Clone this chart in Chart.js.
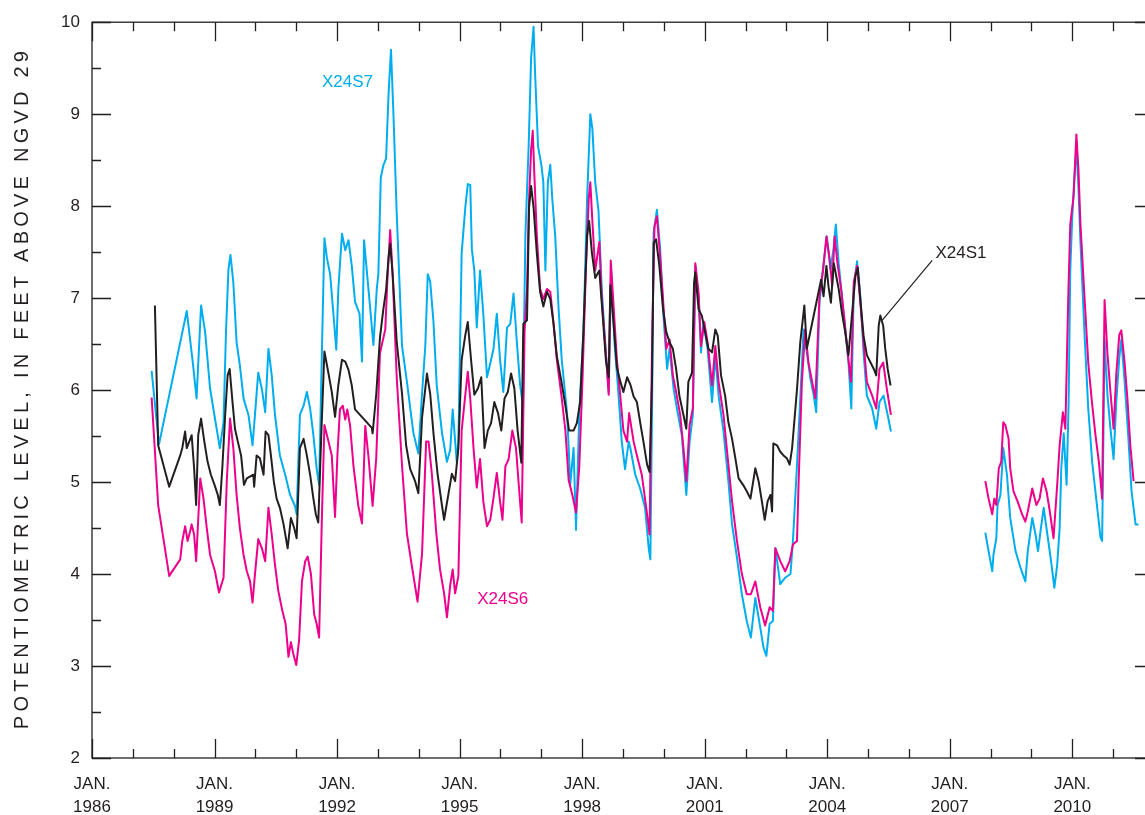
<!DOCTYPE html>
<html>
<head>
<meta charset="utf-8">
<script src="https://cdn.jsdelivr.net/npm/chart.js@4.4.1/dist/chart.umd.min.js"></script>
<style>
  html, body { margin: 0; padding: 0; background: #fff; overflow: hidden; }
  canvas { display: block; }
</style>
</head>
<body>
<canvas id="chart" width="1170" height="815"></canvas>
<script>
const s7Year = [1987.46, 1987.64, 1988.32, 1988.47, 1988.56, 1988.67, 1988.77, 1988.89, 1988.97, 1989.13, 1989.22, 1989.28, 1989.34, 1989.39, 1989.46, 1989.54, 1989.62, 1989.71, 1989.83, 1989.93, 1989.99, 1990.07, 1990.16, 1990.24, 1990.32, 1990.40, 1990.48, 1990.60, 1990.73, 1990.85, 1990.97, 1991.01, 1991.09, 1991.18, 1991.26, 1991.34, 1991.42, 1991.50, 1991.56, 1991.63, 1991.69, 1991.75, 1991.83, 1991.91, 1991.98, 1992.03, 1992.12, 1992.20, 1992.28, 1992.36, 1992.44, 1992.55, 1992.61, 1992.66, 1992.77, 1992.89, 1992.97, 1993.01, 1993.07, 1993.13, 1993.20, 1993.26, 1993.32, 1993.38, 1993.46, 1993.59, 1993.71, 1993.87, 1993.99, 1994.08, 1994.16, 1994.22, 1994.28, 1994.36, 1994.44, 1994.57, 1994.69, 1994.77, 1994.83, 1994.93, 1994.97, 1995.05, 1995.14, 1995.20, 1995.26, 1995.30, 1995.36, 1995.42, 1995.50, 1995.58, 1995.67, 1995.75, 1995.83, 1995.91, 1995.99, 1996.07, 1996.16, 1996.24, 1996.32, 1996.40, 1996.48, 1996.55, 1996.61, 1996.69, 1996.75, 1996.81, 1996.85, 1996.92, 1997.00, 1997.05, 1997.10, 1997.16, 1997.22, 1997.27, 1997.34, 1997.42, 1997.50, 1997.63, 1997.71, 1997.79, 1997.85, 1997.93, 1998.03, 1998.12, 1998.20, 1998.25, 1998.32, 1998.40, 1998.48, 1998.56, 1998.65, 1998.71, 1998.79, 1998.89, 1998.97, 1999.05, 1999.14, 1999.18, 1999.30, 1999.42, 1999.54, 1999.63, 1999.67, 1999.71, 1999.75, 1999.83, 1999.91, 1999.99, 2000.08, 2000.14, 2000.24, 2000.32, 2000.44, 2000.55, 2000.63, 2000.71, 2000.77, 2000.85, 2000.91, 2000.97, 2001.07, 2001.18, 2001.26, 2001.34, 2001.46, 2001.58, 2001.67, 2001.79, 2001.91, 2002.03, 2002.13, 2002.24, 2002.36, 2002.44, 2002.51, 2002.59, 2002.67, 2002.73, 2002.85, 2002.97, 2003.10, 2003.16, 2003.26, 2003.38, 2003.42, 2003.50, 2003.59, 2003.67, 2003.73, 2003.81, 2003.91, 2003.99, 2004.08, 2004.16, 2004.21, 2004.28, 2004.36, 2004.44, 2004.52, 2004.59, 2004.65, 2004.73, 2004.81, 2004.89, 2004.97, 2005.10, 2005.20, 2005.28, 2005.38, 2005.48, 2005.56,
  2006.70,
  2007.87, 2007.95, 2008.04, 2008.07, 2008.14, 2008.17, 2008.24, 2008.31, 2008.40, 2008.48, 2008.61, 2008.73, 2008.85, 2008.91, 2009.02, 2009.10, 2009.16, 2009.22, 2009.30, 2009.38, 2009.48, 2009.56, 2009.63, 2009.69, 2009.73, 2009.79, 2009.86, 2009.91, 2009.95, 2010.00, 2010.05, 2010.10, 2010.15, 2010.20, 2010.30, 2010.39, 2010.49, 2010.59, 2010.69, 2010.73, 2010.79, 2010.86, 2010.93, 2011.01, 2011.08, 2011.15, 2011.20, 2011.28, 2011.37, 2011.45, 2011.55, 2011.62];
const s7Level = [6.21, 5.41, 6.86, 6.29, 5.91, 6.92, 6.63, 6.02, 5.80, 5.37, 5.65, 6.63, 7.31, 7.47, 7.17, 6.52, 6.27, 5.91, 5.73, 5.40, 5.73, 6.19, 6.01, 5.76, 6.45, 6.16, 5.73, 5.29, 5.08, 4.86, 4.74, 4.65, 5.73, 5.83, 5.98, 5.80, 5.51, 5.15, 4.97, 6.45, 7.65, 7.44, 7.26, 6.83, 6.44, 7.09, 7.70, 7.52, 7.63, 7.35, 6.96, 6.83, 6.31, 7.63, 7.09, 6.49, 7.09, 7.26, 8.31, 8.44, 8.52, 9.22, 9.70, 9.00, 7.92, 6.48, 6.09, 5.53, 5.31, 5.96, 6.48, 7.26, 7.18, 6.74, 6.05, 5.53, 5.22, 5.35, 5.79, 5.22, 5.44, 7.49, 7.99, 8.24, 8.23, 7.53, 7.30, 6.68, 7.30, 6.83, 6.14, 6.29, 6.45, 6.83, 6.33, 5.98, 6.68, 6.72, 7.05, 6.53, 6.06, 5.83, 7.68, 8.65, 9.61, 9.95, 9.42, 8.65, 8.45, 8.26, 7.30, 8.26, 8.45, 8.07, 7.68, 6.91, 6.33, 5.75, 4.98, 5.37, 4.48, 5.75, 6.60, 8.07, 9.00, 8.84, 8.26, 7.95, 7.10, 6.53, 5.98, 7.30, 6.53, 5.95, 5.44, 5.14, 5.44, 5.37, 5.08, 4.93, 4.72, 4.28, 4.16, 5.73, 7.71, 7.96, 7.53, 6.81, 6.23, 6.45, 6.01, 5.80, 5.51, 4.86, 5.44, 5.73, 7.35, 6.99, 6.41, 6.74, 6.45, 5.87, 6.38, 5.94, 5.55, 5.01, 4.54, 4.18, 3.78, 3.49, 3.31, 3.74, 3.42, 3.20, 3.11, 3.46, 3.49, 4.28, 3.89, 3.96, 4.00, 4.36, 5.19, 6.27, 6.66, 6.41, 6.12, 5.94, 5.76, 6.95, 7.38, 7.67, 7.31, 7.56, 7.80, 7.38, 7.02, 6.66, 6.30, 5.80, 7.13, 7.40, 7.02, 6.41, 5.94, 5.80, 5.58, 5.87, 5.94, 5.73, 5.55,
  null,
  4.45, 4.25, 4.03, 4.21, 4.39, 4.75, 4.86, 5.37, 5.08, 4.61, 4.25, 4.07, 3.92, 4.25, 4.61, 4.43, 4.25, 4.46, 4.72, 4.46, 4.14, 3.85, 4.10, 4.50, 5.15, 5.53, 4.97, 5.87, 7.30, 7.90, 8.30, 8.65, 8.20, 7.60, 6.60, 5.80, 5.20, 4.80, 4.40, 4.36, 6.55, 5.95, 5.60, 5.25, 5.90, 6.35, 6.55, 6.10, 5.50, 4.90, 4.54, 4.54];

const s6Year = [1987.46, 1987.62, 1987.89, 1988.16, 1988.21, 1988.28, 1988.34, 1988.40, 1988.44, 1988.50, 1988.55, 1988.65, 1988.73, 1988.81, 1988.89, 1989.01, 1989.11, 1989.22, 1989.30, 1989.38, 1989.46, 1989.54, 1989.62, 1989.71, 1989.79, 1989.87, 1989.93, 1989.99, 1990.07, 1990.16, 1990.24, 1990.32, 1990.40, 1990.48, 1990.56, 1990.66, 1990.74, 1990.81, 1990.87, 1990.93, 1991.00, 1991.07, 1991.14, 1991.22, 1991.28, 1991.36, 1991.44, 1991.50, 1991.56, 1991.63, 1991.69, 1991.79, 1991.87, 1991.95, 1992.01, 1992.07, 1992.14, 1992.20, 1992.25, 1992.32, 1992.40, 1992.52, 1992.61, 1992.69, 1992.77, 1992.87, 1992.96, 1993.05, 1993.18, 1993.23, 1993.30, 1993.36, 1993.46, 1993.59, 1993.71, 1993.83, 1993.97, 1994.08, 1994.18, 1994.24, 1994.32, 1994.43, 1994.52, 1994.62, 1994.69, 1994.77, 1994.83, 1994.89, 1994.97, 1995.05, 1995.14, 1995.20, 1995.26, 1995.34, 1995.42, 1995.50, 1995.58, 1995.67, 1995.75, 1995.83, 1995.91, 1995.99, 1996.05, 1996.12, 1996.20, 1996.29, 1996.38, 1996.46, 1996.52, 1996.59, 1996.65, 1996.70, 1996.75, 1996.79, 1996.83, 1996.89, 1996.97, 1997.05, 1997.14, 1997.22, 1997.30, 1997.38, 1997.49, 1997.59, 1997.67, 1997.76, 1997.85, 1997.93, 1998.01, 1998.09, 1998.16, 1998.20, 1998.25, 1998.32, 1998.42, 1998.48, 1998.56, 1998.65, 1998.70, 1998.77, 1998.85, 1998.93, 1999.01, 1999.10, 1999.15, 1999.26, 1999.34, 1999.46, 1999.59, 1999.65, 1999.71, 1999.77, 1999.83, 1999.89, 1999.98, 2000.06, 2000.14, 2000.22, 2000.30, 2000.40, 2000.48, 2000.55, 2000.63, 2000.71, 2000.77, 2000.85, 2000.91, 2000.99, 2001.07, 2001.18, 2001.26, 2001.34, 2001.46, 2001.58, 2001.67, 2001.79, 2001.91, 2002.03, 2002.13, 2002.24, 2002.36, 2002.48, 2002.59, 2002.67, 2002.73, 2002.85, 2002.97, 2003.08, 2003.16, 2003.26, 2003.30, 2003.38, 2003.46, 2003.54, 2003.63, 2003.71, 2003.81, 2003.90, 2003.98, 2004.06, 2004.12, 2004.18, 2004.25, 2004.34, 2004.42, 2004.50, 2004.58, 2004.65, 2004.73, 2004.81, 2004.89, 2004.97, 2005.10, 2005.20, 2005.28, 2005.37, 2005.46, 2005.56,
  2006.70,
  2007.87, 2007.95, 2008.04, 2008.09, 2008.14, 2008.20, 2008.26, 2008.31, 2008.36, 2008.44, 2008.48, 2008.56, 2008.66, 2008.77, 2008.85, 2008.91, 2009.02, 2009.12, 2009.20, 2009.28, 2009.37, 2009.45, 2009.54, 2009.63, 2009.69, 2009.77, 2009.83, 2009.90, 2009.95, 2010.03, 2010.10, 2010.15, 2010.20, 2010.30, 2010.39, 2010.48, 2010.57, 2010.65, 2010.73, 2010.79, 2010.86, 2010.93, 2011.01, 2011.08, 2011.15, 2011.20, 2011.28, 2011.35, 2011.42, 2011.50];
const s6Level = [5.92, 4.75, 3.98, 4.16, 4.36, 4.52, 4.36, 4.46, 4.54, 4.43, 4.14, 5.04, 4.82, 4.50, 4.21, 4.03, 3.80, 3.96, 5.01, 5.69, 5.37, 4.86, 4.50, 4.21, 4.03, 3.92, 3.69, 4.00, 4.38, 4.28, 4.14, 4.72, 4.43, 4.10, 3.82, 3.60, 3.46, 3.10, 3.26, 3.13, 3.01, 3.28, 3.92, 4.14, 4.19, 4.00, 3.56, 3.46, 3.31, 4.65, 5.62, 5.44, 5.29, 4.62, 5.31, 5.79, 5.83, 5.68, 5.79, 5.61, 5.18, 4.74, 4.55, 5.61, 5.27, 4.74, 5.27, 6.40, 6.66, 7.18, 7.74, 7.26, 6.14, 5.18, 4.44, 4.09, 3.70, 4.22, 5.44, 5.44, 5.09, 4.44, 4.05, 3.79, 3.53, 3.88, 4.05, 3.79, 3.98, 5.56, 5.95, 6.20, 5.91, 5.37, 4.94, 5.25, 4.79, 4.52, 4.59, 4.83, 5.10, 4.79, 4.59, 5.17, 5.25, 5.56, 5.37, 4.90, 4.56, 6.64, 7.10, 8.07, 8.61, 8.82, 8.34, 7.68, 7.10, 6.99, 7.10, 7.07, 6.72, 6.33, 5.95, 5.56, 5.02, 4.86, 4.67, 5.17, 6.14, 7.30, 8.07, 8.26, 7.84, 7.30, 7.61, 6.99, 6.53, 5.95, 7.41, 6.91, 6.33, 5.95, 5.56, 5.44, 5.75, 5.44, 5.29, 5.08, 4.65, 4.43, 6.45, 7.78, 7.89, 7.56, 6.99, 6.45, 6.55, 6.16, 5.98, 5.73, 5.37, 5.01, 5.62, 5.80, 7.38, 7.06, 6.48, 6.74, 6.52, 6.05, 6.48, 6.09, 5.73, 5.19, 4.79, 4.36, 4.00, 3.78, 3.78, 3.92, 3.64, 3.44, 3.64, 3.60, 4.28, 4.14, 4.03, 4.14, 4.32, 4.36, 5.01, 6.09, 6.66, 6.30, 6.09, 5.91, 7.02, 7.31, 7.67, 7.42, 7.13, 7.67, 7.38, 7.10, 6.77, 6.41, 6.09, 7.17, 7.35, 6.95, 6.52, 6.09, 5.94, 5.80, 6.23, 6.30, 6.01, 5.73,
  null,
  5.01, 4.82, 4.65, 4.82, 4.75, 5.15, 5.22, 5.65, 5.62, 5.47, 5.15, 4.90, 4.79, 4.65, 4.57, 4.68, 4.93, 4.75, 4.82, 5.04, 4.90, 4.68, 4.39, 4.97, 5.40, 5.76, 5.58, 7.00, 7.80, 8.10, 8.78, 8.40, 7.80, 7.00, 6.30, 5.87, 5.50, 5.22, 4.82, 6.98, 6.40, 6.00, 5.58, 6.20, 6.60, 6.65, 6.30, 5.90, 5.40, 5.01];

const s1Year = [1987.54, 1987.62, 1987.89, 1988.16, 1988.21, 1988.28, 1988.32, 1988.38, 1988.44, 1988.50, 1988.55, 1988.60, 1988.67, 1988.75, 1988.83, 1988.91, 1989.00, 1989.08, 1989.13, 1989.19, 1989.26, 1989.32, 1989.37, 1989.44, 1989.50, 1989.57, 1989.65, 1989.72, 1989.79, 1989.95, 1989.97, 1990.03, 1990.11, 1990.20, 1990.25, 1990.32, 1990.38, 1990.45, 1990.52, 1990.60, 1990.69, 1990.79, 1990.87, 1990.95, 1991.01, 1991.09, 1991.18, 1991.26, 1991.34, 1991.42, 1991.48, 1991.54, 1991.62, 1991.69, 1991.79, 1991.87, 1991.95, 1992.03, 1992.12, 1992.20, 1992.28, 1992.36, 1992.44, 1992.85, 1992.87, 1992.96, 1993.05, 1993.13, 1993.20, 1993.26, 1993.30, 1993.36, 1993.46, 1993.59, 1993.69, 1993.79, 1993.91, 1993.99, 1994.08, 1994.20, 1994.28, 1994.36, 1994.46, 1994.57, 1994.62, 1994.73, 1994.81, 1994.89, 1994.97, 1995.05, 1995.14, 1995.20, 1995.28, 1995.36, 1995.45, 1995.53, 1995.61, 1995.69, 1995.77, 1995.85, 1995.94, 1996.02, 1996.10, 1996.18, 1996.26, 1996.34, 1996.42, 1996.51, 1996.56, 1996.65, 1996.70, 1996.75, 1996.81, 1996.89, 1996.97, 1997.05, 1997.14, 1997.22, 1997.30, 1997.38, 1997.49, 1997.59, 1997.68, 1997.79, 1997.87, 1997.95, 1998.03, 1998.12, 1998.17, 1998.24, 1998.32, 1998.42, 1998.50, 1998.58, 1998.65, 1998.69, 1998.77, 1998.85, 1998.93, 1999.01, 1999.10, 1999.18, 1999.26, 1999.34, 1999.42, 1999.50, 1999.59, 1999.65, 1999.71, 1999.75, 1999.81, 1999.89, 1999.98, 2000.06, 2000.14, 2000.22, 2000.30, 2000.38, 2000.48, 2000.55, 2000.60, 2000.69, 2000.74, 2000.77, 2000.85, 2000.93, 2001.01, 2001.09, 2001.18, 2001.26, 2001.32, 2001.40, 2001.50, 2001.58, 2001.67, 2001.75, 2001.83, 2001.94, 2002.03, 2002.12, 2002.24, 2002.32, 2002.40, 2002.47, 2002.54, 2002.61, 2002.65, 2002.68, 2002.77, 2002.85, 2002.93, 2003.01, 2003.08, 2003.14, 2003.26, 2003.34, 2003.44, 2003.50, 2003.85, 2003.91, 2003.98, 2004.03, 2004.09, 2004.16, 2004.22, 2004.28, 2004.36, 2004.44, 2004.52, 2004.61, 2004.69, 2004.75, 2004.81, 2004.89, 2004.97, 2005.06, 2005.14, 2005.20, 2005.26, 2005.30, 2005.37, 2005.42, 2005.48, 2005.55];
const s1Level = [6.92, 5.40, 4.95, 5.29, 5.37, 5.55, 5.37, 5.44, 5.51, 5.15, 4.75, 5.51, 5.69, 5.44, 5.22, 5.08, 4.97, 4.86, 4.75, 5.15, 5.73, 6.16, 6.23, 5.87, 5.58, 5.44, 5.29, 4.97, 5.04, 5.08, 4.95, 5.29, 5.26, 5.08, 5.55, 5.51, 5.29, 5.01, 4.82, 4.72, 4.54, 4.28, 4.61, 4.50, 4.39, 5.37, 5.47, 5.29, 5.08, 4.82, 4.65, 4.56, 5.60, 6.42, 6.18, 5.98, 5.71, 6.05, 6.33, 6.31, 6.22, 6.05, 5.79, 5.59, 5.53, 5.96, 6.57, 6.87, 7.09, 7.44, 7.59, 7.26, 6.53, 5.96, 5.40, 5.14, 5.01, 4.88, 5.70, 6.18, 5.96, 5.53, 5.09, 4.74, 4.59, 4.88, 5.09, 5.01, 5.37, 6.33, 6.60, 6.74, 6.33, 5.95, 6.02, 6.14, 5.37, 5.56, 5.64, 5.87, 5.75, 5.56, 5.91, 5.98, 6.18, 6.02, 5.56, 5.21, 6.72, 6.76, 7.99, 8.22, 7.99, 7.49, 7.07, 6.91, 7.07, 6.99, 6.72, 6.37, 6.10, 5.83, 5.56, 5.56, 5.64, 5.87, 6.64, 7.68, 7.84, 7.49, 7.22, 7.30, 6.83, 6.33, 6.14, 7.14, 6.72, 6.25, 6.10, 5.98, 6.14, 6.06, 5.93, 5.87, 5.65, 5.44, 5.19, 5.11, 6.09, 7.60, 7.64, 7.35, 6.88, 6.63, 6.52, 6.45, 6.23, 5.94, 5.73, 5.58, 6.09, 6.19, 7.17, 7.28, 6.88, 6.81, 6.63, 6.45, 6.41, 6.66, 6.59, 6.16, 5.94, 5.65, 5.47, 5.26, 5.04, 4.97, 4.90, 4.82, 5.15, 5.01, 4.79, 4.59, 4.79, 4.86, 4.68, 5.42, 5.40, 5.33, 5.29, 5.26, 5.19, 5.37, 6.01, 6.52, 6.92, 6.45, 7.20, 7.02, 7.35, 7.13, 6.95, 7.38, 7.24, 7.10, 6.84, 6.63, 6.38, 6.84, 7.24, 7.33, 6.99, 6.59, 6.38, 6.30, 6.23, 6.16, 6.70, 6.81, 6.70, 6.45, 6.23, 6.05];

const xMin = 1986;
const xMax = 2012;
const yMin = 2;
const yMax = 10;
const labelEvery = 3;
const yTitle = 'POTENTIOMETRIC LEVEL, IN FEET ABOVE NGVD 29';

// well names placed next to their curves (year, level)
const wellNames = [
  { text: 'X24S7', year: 1991.63, level: 9.35, color: '#00aeef' },
  { text: 'X24S6', year: 1995.43, level: 3.73, color: '#ec008c' },
  { text: 'X24S1', year: 2006.65, level: 7.49, color: '#231f20' }
];
const leader = { from: [2005.35, 6.76], to: [2006.57, 7.41] };

const ink = '#231f20';
const textFont = '"Liberation Sans", Arial, sans-serif';

function toPoints(xs, ys) {
  return xs.map((x, i) => ({ x: x, y: ys[i] }));
}

// frame on all four sides with ticks pointing inward, plus title and names
const framePlugin = {
  id: 'frame',
  afterDatasetsDraw(chart) {
    const { ctx, chartArea: a, scales: { x, y } } = chart;
    ctx.save();
    ctx.strokeStyle = ink;
    ctx.lineWidth = 1.3;
    ctx.strokeRect(a.left, a.top, a.right - a.left, a.bottom - a.top);

    ctx.beginPath();
    x.ticks.forEach(t => {
      const px = Math.round(x.getPixelForValue(t.value)) + 0.5;
      const len = (t.value - xMin) % labelEvery === 0 ? 19 : 9;
      ctx.moveTo(px, a.bottom); ctx.lineTo(px, a.bottom - len);
      ctx.moveTo(px, a.top); ctx.lineTo(px, a.top + len);
    });
    y.ticks.forEach(t => {
      const py = Math.round(y.getPixelForValue(t.value)) + 0.5;
      const len = Number.isInteger(t.value) ? 19 : 9;
      ctx.moveTo(a.left, py); ctx.lineTo(a.left + len, py);
      ctx.moveTo(a.right, py); ctx.lineTo(a.right - len, py);
    });
    ctx.stroke();

    // leader line to X24S1
    ctx.lineWidth = 1.2;
    ctx.beginPath();
    ctx.moveTo(x.getPixelForValue(leader.from[0]), y.getPixelForValue(leader.from[1]));
    ctx.lineTo(x.getPixelForValue(leader.to[0]), y.getPixelForValue(leader.to[1]));
    ctx.stroke();

    ctx.font = '17px ' + textFont;
    ctx.textBaseline = 'middle';
    ctx.textAlign = 'left';
    wellNames.forEach(n => {
      ctx.fillStyle = n.color;
      ctx.fillText(n.text, x.getPixelForValue(n.year), y.getPixelForValue(n.level));
    });

    // axis title, spread to span the axis like the original
    ctx.fillStyle = ink;
    ctx.translate(22, (a.top + a.bottom) / 2);
    ctx.rotate(-Math.PI / 2);
    ctx.font = '20px ' + textFont;
    const w = ctx.measureText(yTitle).width;
    const gap = (678 - w) / (yTitle.length - 1);
    ctx.letterSpacing = gap.toFixed(2) + 'px';
    ctx.textAlign = 'center';
    ctx.fillText(yTitle, gap / 2, 0);
    ctx.restore();
  }
};

new Chart(document.getElementById('chart'), {
  type: 'line',
  data: {
    datasets: [
      { label: 'X24S1', data: toPoints(s1Year, s1Level), borderColor: ink, borderWidth: 2 },
      { label: 'X24S6', data: toPoints(s6Year, s6Level), borderColor: '#ec008c', borderWidth: 2 },
      { label: 'X24S7', data: toPoints(s7Year, s7Level), borderColor: '#00aeef', borderWidth: 2 }
    ]
  },
  options: {
    responsive: false,
    animation: false,
    spanGaps: false,
    elements: { point: { radius: 0 }, line: { tension: 0, borderJoinStyle: 'round' } },
    layout: { padding: { top: 18, right: 16, left: 0, bottom: 0 } },
    plugins: { legend: { display: false }, tooltip: { enabled: false } },
    scales: {
      x: {
        type: 'linear',
        min: xMin,
        max: xMax,
        grid: { display: false, drawTicks: false },
        border: { display: false },
        afterFit: s => { s.height = 57; },
        ticks: {
          stepSize: 1,
          autoSkip: false,
          maxRotation: 0,
          padding: 15,
          color: ink,
          font: { family: textFont, size: 17, lineHeight: 1.35 },
          callback: v => ((v - xMin) % labelEvery === 0 ? ['JAN.', String(v)] : '')
        }
      },
      y: {
        min: yMin,
        max: yMax,
        grid: { display: false, drawTicks: false },
        border: { display: false },
        afterFit: s => { s.width = 92; },
        ticks: {
          stepSize: 0.5,
          padding: 12,
          color: ink,
          font: { family: textFont, size: 17 },
          callback: v => (Number.isInteger(v) ? String(v) : '')
        }
      }
    }
  },
  plugins: [framePlugin]
});
</script>
</body>
</html>
